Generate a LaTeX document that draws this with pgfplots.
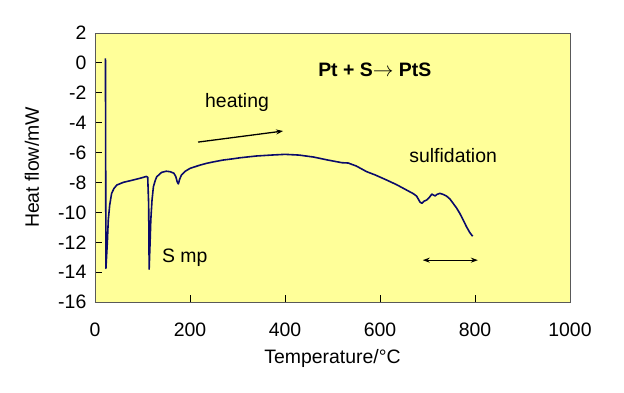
\documentclass[border=0pt]{standalone}
\usepackage{pgfplots}
\pgfplotsset{compat=1.18}
\usetikzlibrary{arrows.meta}
\usepackage{fontspec}
\setmainfont{Liberation Sans}
\definecolor{bgyellow}{HTML}{FFFF99}
\definecolor{curve}{HTML}{0A0A6A}
\begin{document}
\fontsize{19.5}{22}\selectfont
\begin{tikzpicture}
\path[use as bounding box] (-95bp,-91bp) rectangle (529bp,302bp);
\begin{axis}[
  scale only axis,
  width=475bp, height=269bp,
  xmin=0, xmax=1000, ymin=-16, ymax=2,
  xtick={0,200,...,1000},
  ytick={-16,-14,...,2},
  yticklabels={{-16},{-14},{-12},{-10},{-8},{-6},{-4},{-2},{0},{2}},
  xticklabels={0,200,400,600,800,1000},
  tick pos=left, tick align=inside,
  major tick length=7bp,
  tick style={black, line width=0.8pt},
  axis background/.style={fill=bgyellow},
  axis line style={draw=gray!70!black, line width=0.8pt},
  xticklabel style={font=\fontsize{19.5}{22}\selectfont, yshift=-14bp},
  yticklabel style={font=\fontsize{19.5}{22}\selectfont, xshift=-2bp},
  xlabel={Temperature/°C},
  ylabel={Heat flow/mW},
  label style={font=\fontsize{19.5}{22}\selectfont},
  ylabel style={yshift=6bp},
  clip=false,
]
\addplot[curve, line width=1.6pt, line join=round] coordinates {
(22,0.3) (23,-13.75) (26,-12.0) (28,-10.5) (31,-9.5) (35,-8.73) (40,-8.4)
(46,-8.17) (60,-7.99) (80,-7.84) (95,-7.72) (108,-7.6) (111,-7.65)
(113,-9.5) (114,-13.8) (116,-12) (117.5,-10.5) (120,-9.2) (123,-8.28)
(127,-7.85) (130,-7.62) (140,-7.33) (150,-7.25) (158,-7.28) (166,-7.38)
(170,-7.6) (173,-7.95) (175.5,-8.1) (178,-7.8) (182,-7.5) (190,-7.25)
(200,-7.06) (220,-6.85) (235,-6.72) (250,-6.62) (270,-6.5) (290,-6.42)
(305,-6.35) (340,-6.23) (370,-6.17) (400,-6.12) (430,-6.17) (460,-6.3)
(490,-6.5) (520,-6.68) (533,-6.7) (550,-6.9) (572,-7.28) (590,-7.5)
(614,-7.84) (635,-8.15) (656,-8.51) (670,-8.75) (677,-8.91) (684,-9.3)
(688,-9.4) (693,-9.25) (698,-9.18) (704,-9.0) (709,-8.78) (713,-8.85)
(716,-8.9) (720,-8.8) (726,-8.73) (733,-8.8) (740,-8.91) (747,-9.1)
(754,-9.4) (761,-9.7) (768,-10.07) (775,-10.5) (782,-10.96) (789,-11.35)
(795,-11.6)
};
\node[font=\bfseries\fontsize{19.5}{22}\selectfont] at (axis cs:589,-0.48) {Pt + S$\rightarrow$ PtS};
\node at (axis cs:299,-2.62) {heating};
\node at (axis cs:754,-6.17) {sulfidation};
\node at (axis cs:189,-13.06) {S mp};
\draw[-{Stealth[length=7bp,width=5bp]}, line width=1.3pt] (axis cs:217,-5.3) -- (axis cs:396,-4.56);
\draw[{Stealth[length=7bp,width=5bp]}-{Stealth[length=7bp,width=5bp]}, line width=1.3pt] (axis cs:690,-13.2) -- (axis cs:806,-13.2);
\end{axis}
\end{tikzpicture}
\end{document}
